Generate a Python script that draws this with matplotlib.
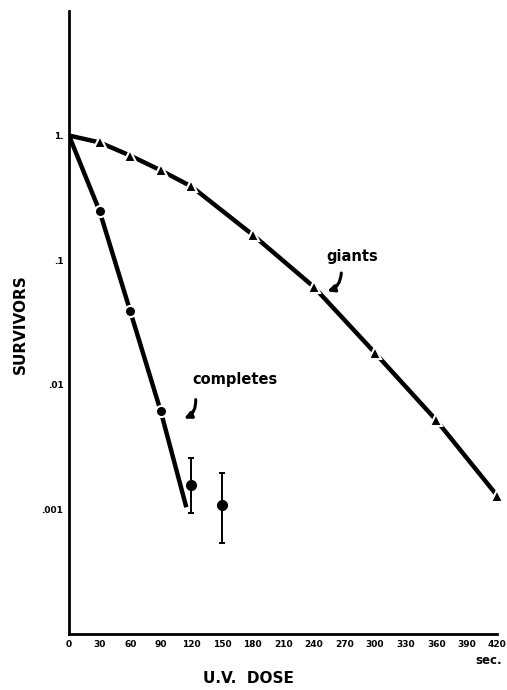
import matplotlib
matplotlib.use('Agg')
import matplotlib.pyplot as plt

# giants (triangles)
giants_dose = [0, 30, 60, 90, 120, 180, 240, 300, 360, 420]
giants_surv = [1.0, 0.88, 0.69, 0.525, 0.39, 0.16, 0.061, 0.018, 0.0052, 0.00128]

# completes (circles on the curve, curve ends near .001)
comp_dose = [0, 30, 60, 90]
comp_surv = [1.0, 0.247, 0.039, 0.0061]
comp_curve_end = (115, 0.00104)

# isolated points with error bars
err_dose = [120, 150]
err_surv = [0.00158, 0.00108]
err_low = [0.00093, 0.000535]
err_high = [0.0026, 0.00194]

xticks = list(range(0, 421, 30))
yticks = [1, 0.1, 0.01, 0.001]
ytick_labels = ['1.', '.1', '.01', '.001']

fig = plt.figure(figsize=(5.07, 6.9), dpi=100)
ax = fig.add_axes([0.1361, 0.0812, 0.845, 0.903])
ax.set_yscale('log')
ax.set_xlim(0, 420)
ax.set_ylim(1e-4, 10)

LW = 3.2
# giants curve
ax.plot(giants_dose, giants_surv, color='black', lw=LW, solid_capstyle='butt', zorder=2)
ax.plot(giants_dose[1:], giants_surv[1:], ls='none', marker='^', ms=9,
        mfc='black', mec='white', mew=1.5, zorder=3, clip_on=False)

# completes curve
cx = comp_dose + [comp_curve_end[0]]
cy = comp_surv + [comp_curve_end[1]]
ax.plot(cx, cy, color='black', lw=LW, solid_capstyle='butt', zorder=2)
ax.plot(comp_dose[1:], comp_surv[1:], ls='none', marker='o', ms=8,
        mfc='black', mec='white', mew=1.5, zorder=3)

# error bar points
yerr = [[s - l for s, l in zip(err_surv, err_low)],
        [h - s for s, h in zip(err_surv, err_high)]]
ax.errorbar(err_dose, err_surv, yerr=yerr, fmt='o', color='black', ms=7,
            elinewidth=1.4, capsize=2, capthick=1.4, zorder=3)

for side in ['top', 'right']:
    ax.spines[side].set_visible(False)
ax.spines['left'].set_linewidth(2)
ax.spines['bottom'].set_linewidth(2)

ax.set_xticks(xticks)
ax.set_xticklabels([str(t) for t in xticks], fontsize=6.5, fontweight='bold',
                   family='DejaVu Sans Condensed')
ax.set_yticks(yticks)
ax.set_yticklabels(ytick_labels, fontsize=6.5, fontweight='bold')
ax.yaxis.set_minor_locator(matplotlib.ticker.NullLocator())
ax.tick_params(axis='both', length=0, pad=4)

fig.text(0.99, 0.043, 'sec.', fontsize=8.5, fontweight='bold', ha='right', va='center')
fig.text(0.49, 0.017, 'U.V.  DOSE', fontsize=11, fontweight='bold', ha='center', va='center')
fig.text(0.04, 0.53, 'SURVIVORS', fontsize=11, fontweight='bold', rotation=90,
         ha='center', va='center')

ax.text(278, 0.106, 'giants', fontsize=10.5, fontweight='bold', ha='center', va='center')
ax.annotate('', xy=(250.6, 0.0555), xytext=(267, 0.083),
            arrowprops=dict(arrowstyle='-|>', color='black', lw=2.2,
                            connectionstyle='arc3,rad=-0.4', mutation_scale=10))
ax.text(163, 0.011, 'completes', fontsize=10.5, fontweight='bold', ha='center', va='center')
ax.annotate('', xy=(110.3, 0.00525), xytext=(124, 0.008),
            arrowprops=dict(arrowstyle='-|>', color='black', lw=2.2,
                            connectionstyle='arc3,rad=-0.4', mutation_scale=10))

fig.savefig('out.png', dpi=100)
